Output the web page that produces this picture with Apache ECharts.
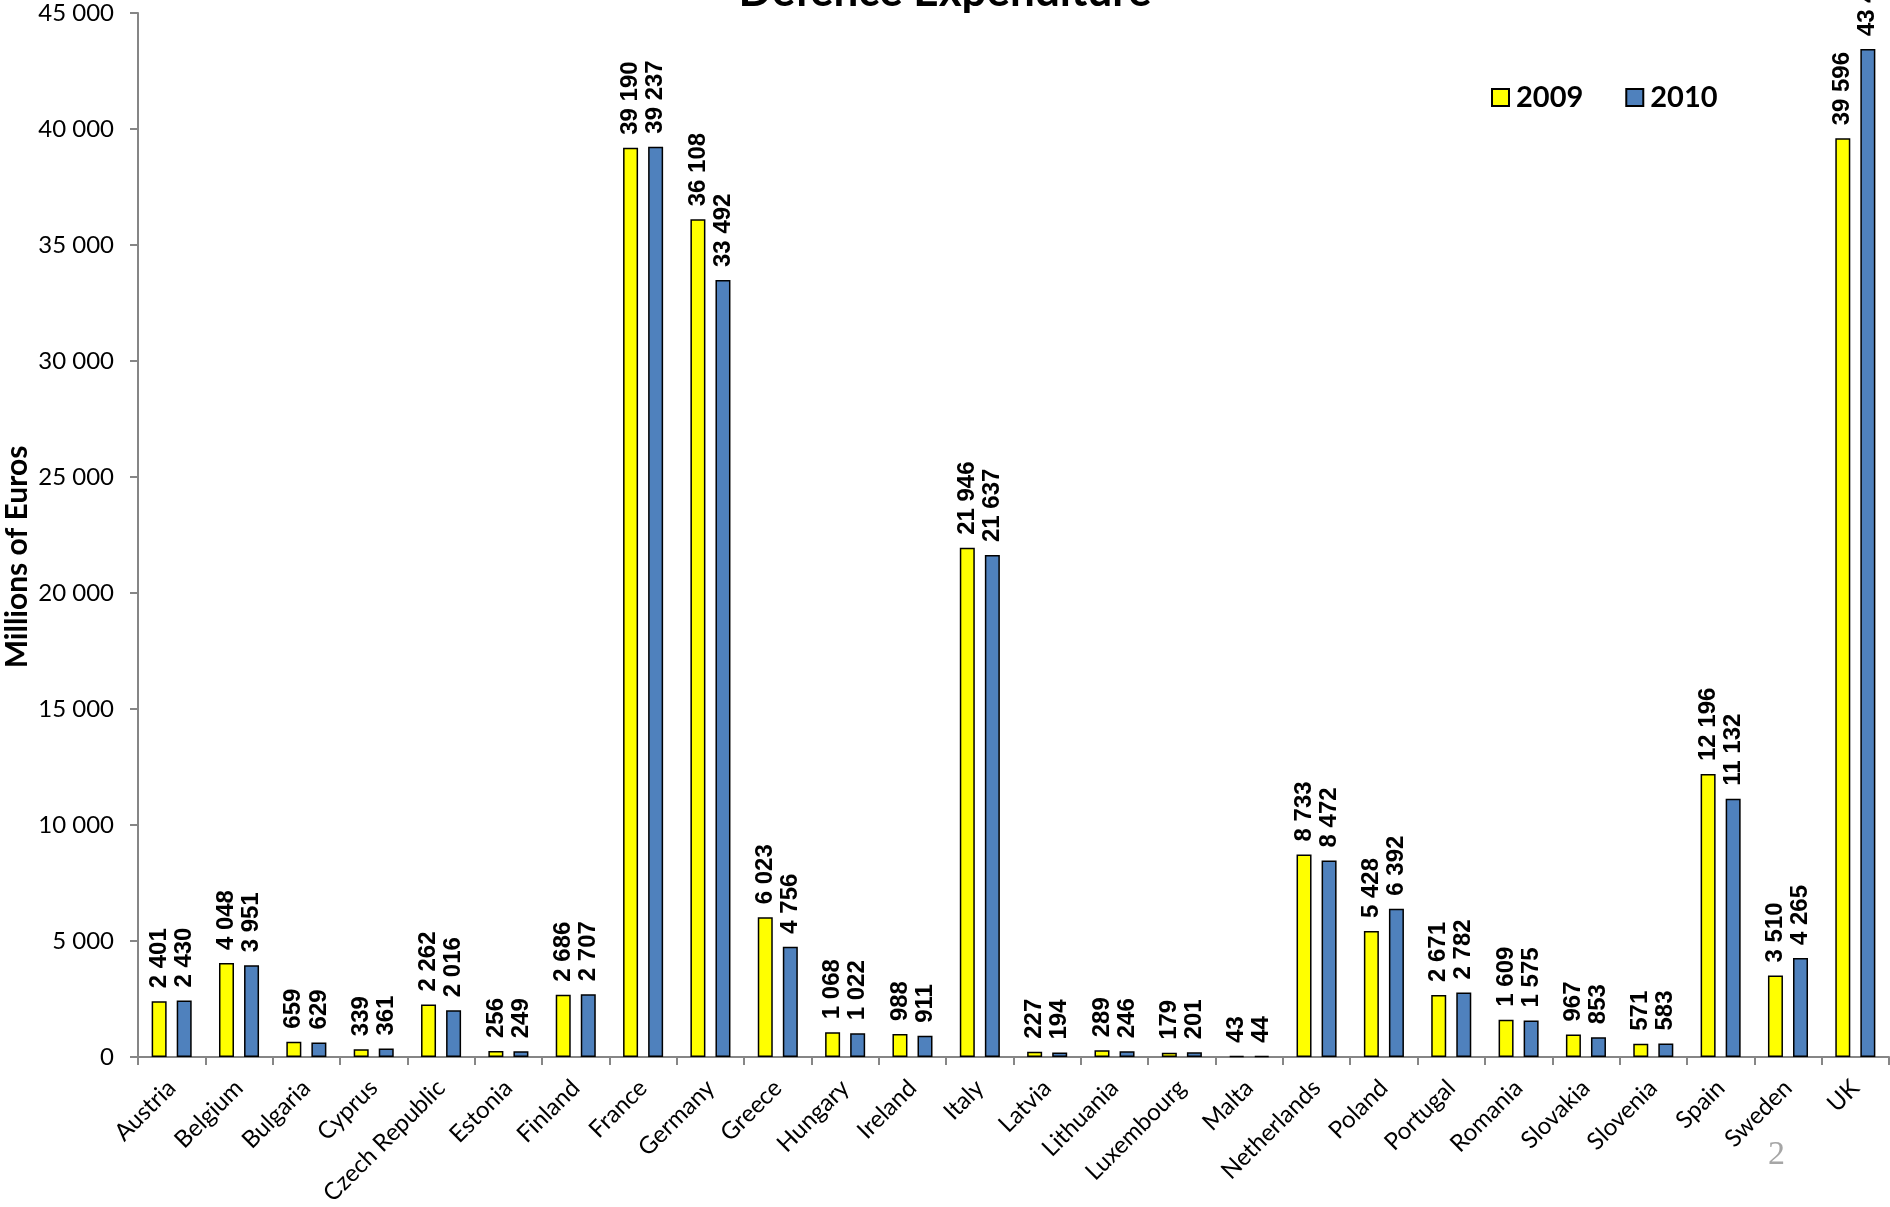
<!DOCTYPE html>
<html>
<head>
<meta charset="utf-8">
<script src="https://cdn.jsdelivr.net/npm/echarts@6/dist/echarts.min.js"></script>
<style>
html,body{margin:0;padding:0;background:#fff;}
#c{width:1890px;height:1207px;}
</style>
</head>
<body>
<div id="c"></div>
<script>
const categories = ["Austria","Belgium","Bulgaria","Cyprus","Czech Republic","Estonia","Finland","France","Germany","Greece","Hungary","Ireland","Italy","Latvia","Lithuania","Luxembourg","Malta","Netherlands","Poland","Portugal","Romania","Slovakia","Slovenia","Spain","Sweden","UK"];
const values2009 = [2401,4048,659,339,2262,256,2686,39190,36108,6023,1068,988,21946,227,289,179,43,8733,5428,2671,1609,967,571,12196,3510,39596];
const values2010 = [2430,3951,629,361,2016,249,2707,39237,33492,4756,1022,911,21637,194,246,201,44,8472,6392,2782,1575,853,583,11132,4265,43448];
const seriesNames = ["2009","2010"];
const yMin = 0, yMax = 45000, yInterval = 5000;
const titleText = "Defence Expenditure";
const yAxisTitle = "Millions of Euros";
const pageNumber = "2";

function fmt(v){ return String(v).replace(/\B(?=(\d{3})+(?!\d))/g, " "); }

const chart = echarts.init(document.getElementById('c'));
const labelCfg = {
  show: true, position: 'top', rotate: 90, align: 'left', verticalAlign: 'middle',
  distance: 13, color: '#000', fontFamily: '"Liberation Sans", Arial, sans-serif',
  fontWeight: 'bold', fontSize: 24,
  formatter: p => fmt(p.value)
};
chart.setOption({
  animation: false,
  backgroundColor: '#fff',
  grid: { left: 138, right: 1, top: 13, bottom: 150, containLabel: false, outerBoundsMode: 'none' },
  legend: {
    left: 1486, top: 78, itemWidth: 17, itemHeight: 17, itemGap: 42,
    icon: 'rect',
    textStyle: { fontFamily: 'Lato, sans-serif', fontWeight: 'bold', fontSize: 29, color: '#000', padding: [0,0,0,2] },
    data: seriesNames
  },
  graphic: [
    { type: 'text', left: 'center', top: -30, style: { text: titleText, fill: '#000', font: 'bold 44px Lato, sans-serif' } },
    { type: 'text', x: 17, y: 557, rotation: Math.PI / 2, style: { text: yAxisTitle, fill: '#000', font: 'bold 30px Lato, sans-serif', align: 'center', verticalAlign: 'middle' } },
    { type: 'text', left: 1768, top: 1138, style: { text: pageNumber, fill: '#a6a6a6', font: '34px "Liberation Serif", serif' } }
  ],
  xAxis: {
    type: 'category', data: categories,
    axisLine: { lineStyle: { color: '#868686', width: 2 } },
    axisTick: { show: true, length: 8, alignWithLabel: false, lineStyle: { color: '#868686', width: 2 } },
    axisLabel: { interval: 0, rotate: 45, fontFamily: 'Lato, sans-serif', fontSize: 24, color: '#000', margin: 27 }
  },
  yAxis: {
    type: 'value', min: yMin, max: yMax, interval: yInterval,
    axisLine: { show: true, lineStyle: { color: '#868686', width: 2 } },
    axisTick: { show: true, length: 8, lineStyle: { color: '#868686', width: 2 } },
    splitLine: { show: false },
    axisLabel: { fontFamily: 'Lato, sans-serif', fontSize: 24, color: '#000', margin: 24, formatter: v => fmt(v) }
  },
  series: [
    { name: seriesNames[0], type: 'bar', data: values2009, barWidth: 15, barGap: '67%',
      itemStyle: { color: '#FFFF00', borderColor: '#000', borderWidth: 1.5 }, label: labelCfg },
    { name: seriesNames[1], type: 'bar', data: values2010, barWidth: 15, barGap: '67%',
      itemStyle: { color: '#4F81BD', borderColor: '#000', borderWidth: 1.5 }, label: labelCfg }
  ]
});
</script>
</body>
</html>
